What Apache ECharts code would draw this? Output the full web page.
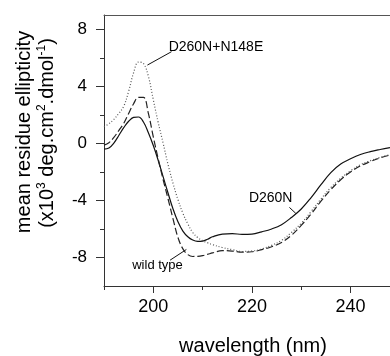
<!DOCTYPE html>
<html><head><meta charset="utf-8">
<script src="https://cdn.jsdelivr.net/npm/echarts@6/dist/echarts.min.js"></script>
<style>html,body{margin:0;padding:0;background:#fff}#c{width:390px;height:356px}</style>
</head><body><div id="c"></div>
<script>
// wavelength (nm)
const wavelength = [190,191,192,193,194,195,196,197,198,199,200,201,202,203,204,205,206,207,208,209,210,211,212,214,216,218,220,222,224,226,228,230,232,234,236,238,240,242,244,246,248];
// D260N (solid)
const d260n = [-0.40,-0.33,0.02,0.55,1.10,1.55,1.82,1.85,1.50,0.75,-0.15,-1.20,-2.35,-3.50,-4.60,-5.50,-6.15,-6.55,-6.78,-6.87,-6.85,-6.72,-6.55,-6.36,-6.33,-6.38,-6.36,-6.20,-6.00,-5.70,-5.20,-4.60,-3.80,-2.90,-2.05,-1.45,-1.08,-0.78,-0.58,-0.43,-0.30];
// wild type (dashed)
const wildType = [-0.12,0.05,0.42,0.90,1.40,2.10,2.78,3.22,3.22,2.10,0.45,-1.10,-2.55,-3.90,-5.30,-6.60,-7.40,-7.80,-7.93,-7.92,-7.87,-7.78,-7.68,-7.52,-7.55,-7.63,-7.60,-7.45,-7.25,-6.95,-6.45,-5.75,-4.95,-4.05,-3.25,-2.55,-2.00,-1.58,-1.28,-1.02,-0.82];
// D260N+N148E (dotted)
const d260nN148e = [1.17,1.38,1.68,2.10,2.60,3.65,4.95,5.70,5.60,4.70,3.05,1.45,0.00,-1.50,-2.80,-3.95,-4.90,-5.65,-6.25,-6.60,-6.82,-6.97,-7.10,-7.30,-7.45,-7.58,-7.55,-7.40,-7.15,-6.80,-6.25,-5.60,-4.78,-3.90,-3.10,-2.45,-1.92,-1.50,-1.22,-0.98,-0.80];

const xTickLabels = [200,220,240];
const xMinorTicks = [190,210,230];
const yTickLabels = [-8,-4,0,4,8];
const yMinorTicks = [-6,-2,2,6];

const annotationTexts = ['D260N+N148E','D260N','wild type'];
const annotationTextPos = [[212.7,6.76],[223.8,-3.86],[200.85,-8.54]];
const annotationLineFrom = [[203.7,6.43],[227.6,-4.49],[203.4,-8.19]];
const annotationLineTo = [[198.8,5.49],[228.9,-4.91],[206.7,-7.44]];

const FONT = "'Liberation Sans', Arial, Helvetica, sans-serif";
function pairs(ys){ return wavelength.map((x,i)=>[x,ys[i]]); }

const chart = echarts.init(document.getElementById('c'), null, {renderer:'canvas'});
const axisColor = '#333';
chart.setOption({
  animation:false,
  backgroundColor:'#fff',
  grid:{left:104, right:0, top:15, bottom:70},
  xAxis:[
    {type:'value', min:190, max:248, position:'bottom',
     axisLine:{show:true, onZero:false, lineStyle:{color:axisColor, width:1}},
     axisTick:{show:true, customValues:xTickLabels, length:7, lineStyle:{color:axisColor}},
     axisLabel:{customValues:xTickLabels, fontSize:18, color:'#000', fontFamily:FONT, margin:12},
     splitLine:{show:false}},
    {type:'value', min:190, max:248, position:'bottom',
     axisLine:{show:false, onZero:false},
     axisTick:{show:true, customValues:xMinorTicks, length:4, lineStyle:{color:axisColor}},
     axisLabel:{show:false}, splitLine:{show:false}},
    {type:'value', min:190, max:248, position:'top',
     axisLine:{show:true, onZero:false, lineStyle:{color:'#555', width:1}},
     axisTick:{show:false}, axisLabel:{show:false}, splitLine:{show:false}}
  ],
  yAxis:[
    {type:'value', min:-10, max:9, position:'left',
     axisLine:{show:true, onZero:false, lineStyle:{color:axisColor, width:1}},
     axisTick:{show:true, customValues:yTickLabels, length:8, lineStyle:{color:axisColor}},
     axisLabel:{customValues:yTickLabels, fontSize:17, color:'#000', fontFamily:FONT, margin:17},
     splitLine:{show:false}},
    {type:'value', min:-10, max:9, position:'left',
     axisLine:{show:false, onZero:false},
     axisTick:{show:true, customValues:yMinorTicks, length:4, lineStyle:{color:axisColor}},
     axisLabel:{show:false}, splitLine:{show:false}}
  ],
  series:[
    {name:'D260N', type:'line', data:pairs(d260n), showSymbol:false, smooth:0.4,
     lineStyle:{color:'#111', width:1.2, type:'solid'}},
    {name:'wild type', type:'line', data:pairs(wildType), showSymbol:false, smooth:0.4,
     lineStyle:{color:'#222', width:1.2, type:[7,3]}},
    {name:'D260N+N148E', type:'line', data:pairs(d260nN148e), showSymbol:false, smooth:0.4,
     lineStyle:{color:'#555', width:1.2, type:[1,2]}}
  ]
});

const graphics = [];
for (let i=0;i<annotationTexts.length;i++){
  const p = chart.convertToPixel({xAxisIndex:0, yAxisIndex:0}, annotationTextPos[i]);
  const a = chart.convertToPixel({xAxisIndex:0, yAxisIndex:0}, annotationLineFrom[i]);
  const b = chart.convertToPixel({xAxisIndex:0, yAxisIndex:0}, annotationLineTo[i]);
  graphics.push({type:'text', x:p[0], y:p[1], style:{text:annotationTexts[i], fill:'#000',
    font:(i===2?'13px ':'14px ')+FONT, align:'center', verticalAlign:'middle'}});
  graphics.push({type:'line', shape:{x1:a[0],y1:a[1],x2:b[0],y2:b[1]}, style:{stroke:'#111', lineWidth:1}});
}
graphics.push({type:'text', x:24, y:132, rotation:Math.PI/2,
  style:{text:'mean residue ellipticity', fill:'#000', font:'20px '+FONT, align:'center', verticalAlign:'middle'}});
graphics.push({type:'text', x:47, y:133, rotation:Math.PI/2,
  style:{text:'{a|(x10}{s|3}{a| deg.cm}{s|2}{a|.dmol}{s|-1}{a|)}', fill:'#000', align:'center', verticalAlign:'middle',
    rich:{a:{fontSize:20, fontFamily:FONT, fill:'#000', lineHeight:22}, s:{fontSize:12, fontFamily:FONT, fill:'#000', verticalAlign:'top', lineHeight:22}}}});
graphics.push({type:'text', x:253, y:346,
  style:{text:'wavelength (nm)', fill:'#000', font:'20px '+FONT, align:'center', verticalAlign:'middle'}});
chart.setOption({graphic:graphics});
</script>
</body></html>
